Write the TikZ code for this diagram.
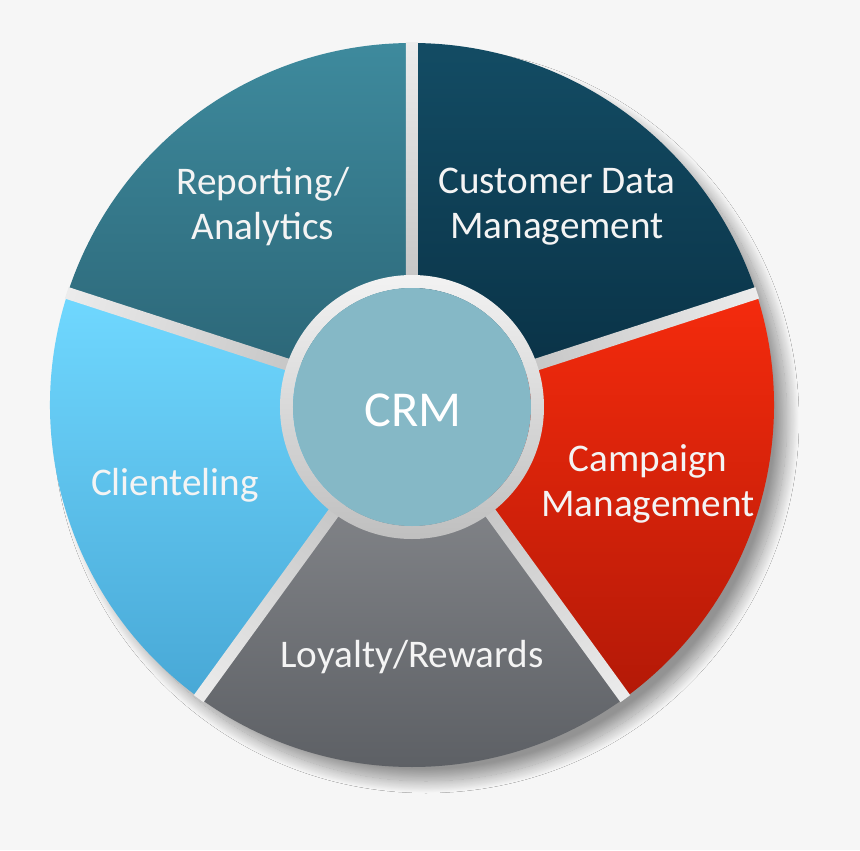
\documentclass[tikz,border=0pt]{standalone}
\usepackage{fontspec}
\setmainfont{Carlito}
\usetikzlibrary{shadows.blur}

\definecolor{pageGray}{HTML}{F6F6F6}
\definecolor{repTop}{HTML}{3E8A9D}
\definecolor{repBot}{HTML}{2A6374}
\definecolor{cdmTop}{HTML}{134C64}
\definecolor{cdmBot}{HTML}{093044}
\definecolor{camTop}{HTML}{F52B0D}
\definecolor{camBot}{HTML}{B31907}
\definecolor{loyTop}{HTML}{8E9094}
\definecolor{loyBot}{HTML}{5A5D62}
\definecolor{cliTop}{HTML}{70D8FF}
\definecolor{cliBot}{HTML}{48A8D6}
\definecolor{hubFill}{HTML}{85B8C6}
\definecolor{labelWhite}{HTML}{F4F4F4}

\tikzset{
  seglabel/.style={text=labelWhite, align=center,
    font=\fontsize{22.3}{25.6}\selectfont},
  hublabel/.style={text=white, font=\fontsize{28.6}{34}\selectfont},
  gapband/.style={left color=gray!60, right color=gray!15}
}

\begin{document}
\begin{tikzpicture}[x=0.02cm, y=0.02cm]
  \fill[pageGray] (-412,-445) rectangle (448,405);
  \useasboundingbox (-412,-445) rectangle (448,405);

  % disc with its soft shadow
  \fill[white, blur shadow={shadow xshift=0.28cm, shadow yshift=-0.3cm,
    shadow blur radius=0.24cm, shadow blur steps=30, shadow opacity=40}]
    (0,0) circle (361);

  % the five segments
  \shade[top color=repTop, bottom color=repBot]
    (0,0) -- (90:362) arc[start angle=90, end angle=162, radius=362] -- cycle;
  \shade[top color=cdmTop, bottom color=cdmBot]
    (0,0) -- (18:362) arc[start angle=18, end angle=90, radius=362] -- cycle;
  \shade[top color=camTop, bottom color=camBot]
    (0,0) -- (-54:362) arc[start angle=-54, end angle=18, radius=362] -- cycle;
  \shade[top color=loyTop, bottom color=loyBot]
    (0,0) -- (-126:362) arc[start angle=-126, end angle=-54, radius=362] -- cycle;
  \shade[top color=cliTop, bottom color=cliBot]
    (0,0) -- (162:362) arc[start angle=162, end angle=234, radius=362] -- cycle;

  % silver gaps between the segments
  \begin{scope}[transform canvas={rotate=90}]
    \shade[gapband] (0,-6) rectangle (363,6);
  \end{scope}
  \begin{scope}[transform canvas={rotate=18}]
    \shade[gapband] (0,-6) rectangle (363,6);
  \end{scope}
  \begin{scope}[transform canvas={rotate=-54}]
    \shade[gapband] (0,-6) rectangle (363,6);
  \end{scope}
  \begin{scope}[transform canvas={rotate=-126}]
    \shade[gapband] (0,-6) rectangle (363,6);
  \end{scope}
  \begin{scope}[transform canvas={rotate=162}]
    \shade[gapband] (0,-6) rectangle (363,6);
  \end{scope}

  % hub
  \shade[top color=gray!10, bottom color=gray!50, even odd rule]
    (0,-2) circle (132) (0,-2) circle (119);
  \fill[hubFill] (0,-2) circle (119);

  \node[hublabel] (crm) at (1,-5) {CRM};
  \node[seglabel] (rep) at (-149,198) {Reporting/\\Analytics};
  \node[seglabel] (cdm) at (145,198) {Customer Data\\Management};
  \node[seglabel] (cam) at (236,-79) {Campaign\\Management};
  \node[seglabel] (cli) at (-237,-80) {Clienteling};
  \node[seglabel] (loy) at (0,-252) {Loyalty/Rewards};
\end{tikzpicture}
\end{document}
